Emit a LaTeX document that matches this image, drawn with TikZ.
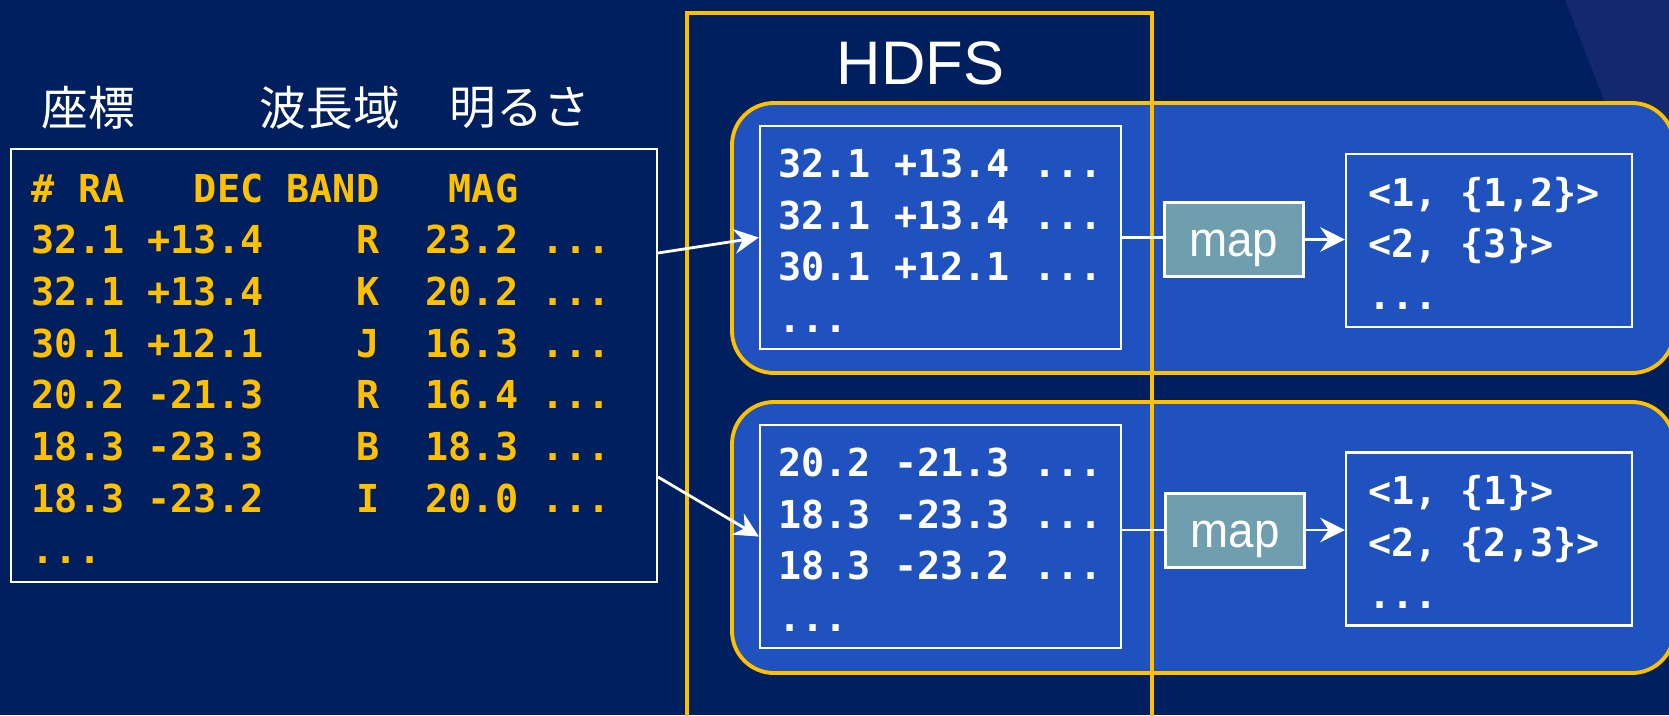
\documentclass[tikz,border=0pt]{standalone}
\usepackage{fontspec}
\setmainfont{Liberation Sans}
\setmonofont{DejaVu Sans Mono}
\newfontfamily\jpfont{Noto Sans CJK JP}
\newfontfamily\narrowsans[FakeStretch=0.93]{Liberation Sans}
\usetikzlibrary{arrows.meta}
\definecolor{slidebg}{RGB}{0,31,95}
\definecolor{slideband}{RGB}{19,40,110}
\definecolor{groupblue}{RGB}{31,82,190}
\definecolor{hdfsgold}{RGB}{255,192,0}
\definecolor{mapteal}{RGB}{111,159,174}
\newcommand{\rowtop}{\rule{0pt}{9.9pt}}
\tikzset{datafont/.style={font=\fontsize{10.95}{14.7}\selectfont\ttfamily\bfseries}}
\tikzset{databox/.style={draw=white, line width=0.7pt, datafont, align=left,
  execute at begin node={\spaceskip=0pt\xspaceskip=0pt\relax}}}
\tikzset{groupbox/.style={draw=hdfsgold, fill=groupblue, line width=1.1pt, rounded corners=0.42cm}}
\tikzset{mapbox/.style={draw=white, fill=mapteal, line width=0.85pt, text=white,
  font=\narrowsans\fontsize{14}{16}\selectfont, text height=9.9pt, text depth=0pt,
  minimum width=1.39cm, minimum height=0.74cm, inner sep=0pt}}
\tikzset{jplabel/.style={white, font=\jpfont\fontsize{13.3}{15}\selectfont}}
\tikzset{link/.style={draw=white, line width=0.8pt}}
\tikzset{flow/.style={link, -{Stealth[length=7pt,width=7pt,inset=2.4pt]}}}

\begin{document}
\begin{tikzpicture}
      \useasboundingbox (0, 0) rectangle (16.69, 7.15);
      \fill [slidebg] (0, 0) rectangle (16.69, 7.15);
      \fill [slideband] (15.65, 7.15) -- (16.69, 7.15) -- (16.69, 4.5) -- cycle;

      \draw [groupbox] (7.32, 3.42) rectangle (16.74, 6.12);
      \draw [groupbox] (7.32, 0.42) rectangle (16.74, 3.13);
      \draw [hdfsgold, line width=0.95pt] (6.87, -0.2) rectangle (11.52, 7.02);

      \node (hdfs) [white, font=\fontsize{17.5}{20}\selectfont] at (9.205, 6.52) {HDFS};

      \node (coord) [jplabel] at (0.88, 6.07) {座標};
      \node (band) [jplabel] at (3.30, 6.07) {波長域};
      \node (mag) [jplabel] at (5.20, 6.07) {明るさ};

      \node (table) [databox, text=hdfsgold, text width=6.04cm, inner xsep=0.21cm, minimum height=4.33cm] at (3.338, 3.495)
        {\rowtop\#~RA~~~DEC~BAND~~~MAG\\
         32.1~+13.4~~~~R~~23.2~...\\
         32.1~+13.4~~~~K~~20.2~...\\
         30.1~+12.1~~~~J~~16.3~...\\
         20.2~-21.3~~~~R~~16.4~...\\
         18.3~-23.3~~~~B~~18.3~...\\
         18.3~-23.2~~~~I~~20.0~...\\
         ...};

      \node (upleft) [databox, text=white, minimum width=3.61cm, minimum height=2.23cm] at (9.405, 4.775)
        {\rowtop32.1~+13.4~...\\32.1~+13.4~...\\30.1~+12.1~...\\...};
      \node (upmap) [mapbox] at (12.335, 4.755) {map};
      \node (upright) [databox, text=white, text width=2.42cm, inner xsep=0.22cm, minimum height=1.73cm] at (14.89, 4.745)
        {\rowtop<1,~\{1,2\}>\\<2,~\{3\}>\\...};

      \node (lowleft) [databox, text=white, minimum width=3.61cm, minimum height=2.23cm] at (9.405, 1.785)
        {\rowtop20.2~-21.3~...\\18.3~-23.3~...\\18.3~-23.2~...\\...};
      \node (lowmap) [mapbox] at (12.35, 1.85) {map};
      \node (lowright) [databox, text=white, text width=2.42cm, inner xsep=0.22cm, minimum height=1.73cm] at (14.89, 1.76)
        {\rowtop<1,~\{1\}>\\<2,~\{2,3\}>\\...};

      \draw [flow] ([yshift=1.125cm]table.east) -- (upleft.west);
      \draw [flow] ([yshift=-1.115cm]table.east) -- (lowleft.west);
      \draw [link] (upleft.east) -- (upleft.east -| upmap.west);
      \draw [flow] (upmap.east) -- (upmap.east -| upright.west);
      \draw [link] (lowmap.west -| lowleft.east) -- (lowmap.west);
      \draw [flow] (lowmap.east) -- (lowmap.east -| lowright.west);
\end{tikzpicture}
\end{document}
